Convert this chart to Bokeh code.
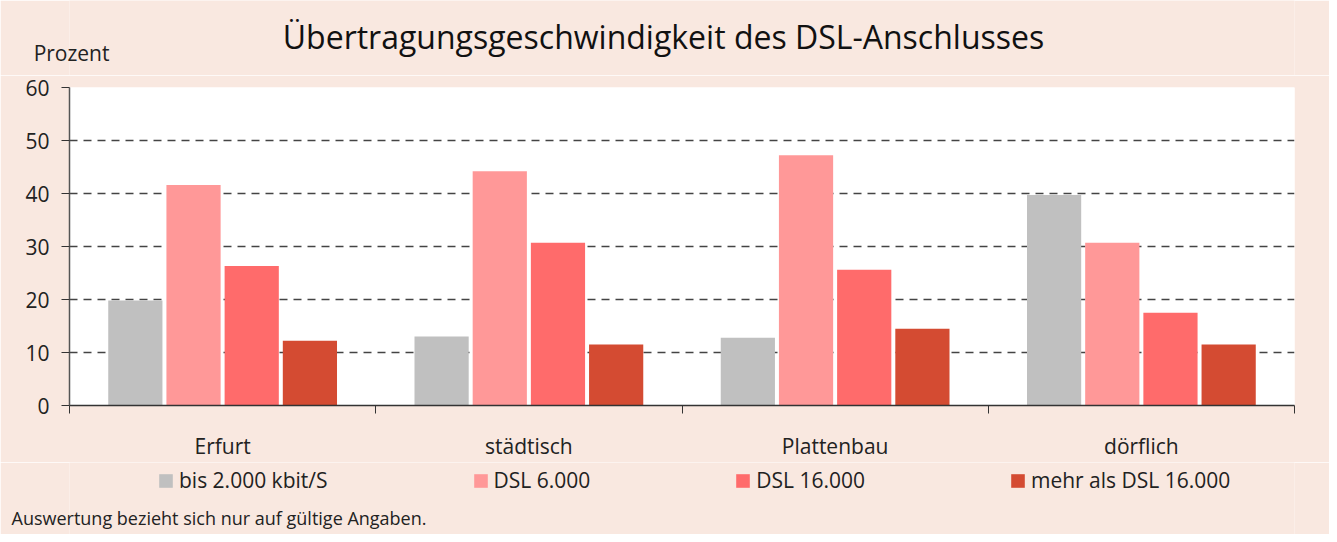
from bokeh.plotting import figure
from bokeh.layouts import column
from bokeh.models import (Range1d, LinearAxis, FixedTicker,
                          Legend, LegendItem, Label, ColumnDataSource)
from bokeh.transform import dodge
from bokeh.embed import file_html
from bokeh.resources import INLINE

categories = ["Erfurt", "städtisch", "Plattenbau", "dörflich"]
series_names = ["bis 2.000 kbit/S", "DSL 6.000", "DSL 16.000", "mehr als DSL 16.000"]
bis_2000 = [19.8, 13.0, 12.8, 39.7]
dsl_6000 = [41.6, 44.2, 47.2, 30.7]
dsl_16000 = [26.3, 30.7, 25.6, 17.5]
mehr_16000 = [12.2, 11.5, 14.5, 11.5]
y_ticks = [0, 10, 20, 30, 40, 50, 60]
title_text = "Übertragungsgeschwindigkeit des DSL-Anschlusses"
y_unit = "Prozent"
footnote = "Auswertung bezieht sich nur auf gültige Angaben."

colors = ["#C0C0C0", "#FF9898", "#FF6B6B", "#D44B32"]
BG = "#F9E8E0"
FONT = "Open Sans"
W = 1329
LEFT, RIGHT = 69, 35
H_TOP, H_MAIN, H_BOT = 75, 387, 72


def blank_fig(h):
    f = figure(width=W, height=h, x_range=Range1d(LEFT, W - RIGHT), y_range=Range1d(0, h),
               output_backend="svg", toolbar_location=None, title=None,
               x_axis_location=None, y_axis_location="left",
               min_border_left=LEFT, min_border_right=RIGHT,
               min_border_top=0, min_border_bottom=0)
    f.background_fill_color = BG
    f.border_fill_color = BG
    f.outline_line_color = None
    f.xgrid.visible = False
    f.ygrid.visible = False
    ax = f.yaxis[0]
    ax.axis_line_color = None
    ax.major_tick_line_color = None
    ax.minor_tick_line_color = None
    ax.major_tick_out = 0
    ax.major_tick_in = 0
    ax.minor_tick_out = 0
    ax.major_label_text_font = FONT
    ax.major_label_text_color = "#222222"
    return f


# ---- top: title and unit ----
top = blank_fig(H_TOP)
top.add_layout(Label(x=663, y=39, text=title_text, text_font=FONT, text_font_size="32px",
                     text_color="#111111", text_align="center", text_baseline="middle"))
tax = top.yaxis[0]
tax.ticker = FixedTicker(ticks=[23])
tax.major_label_overrides = {23: y_unit}
tax.major_label_text_font_size = "21px"
tax.major_label_standoff = -40

# ---- main chart ----
n = len(categories)
centers = [i + 0.5 for i in range(n)]
source = ColumnDataSource(data=dict(x=centers, cat=categories, s0=bis_2000, s1=dsl_6000,
                                    s2=dsl_16000, s3=mehr_16000))

p = figure(x_range=Range1d(0, n), y_range=Range1d(0, 60), title=None,
           width=W, height=H_MAIN, output_backend="svg", toolbar_location=None,
           min_border_left=LEFT, min_border_right=RIGHT,
           min_border_top=12, min_border_bottom=56)
p.background_fill_color = "white"
p.border_fill_color = BG
p.outline_line_color = None

xax = p.xaxis[0]
xax.ticker = FixedTicker(ticks=list(range(n + 1)))
xax.major_label_overrides = {i: "" for i in range(n + 1)}
xax.major_label_text_font_size = "1px"
xax.major_tick_out = 8
xax.major_tick_in = 0
xax.minor_tick_line_color = None
xax.axis_line_color = "#333333"
xax.major_tick_line_color = "#333333"
xax.axis_line_width = 1.5
xax.major_label_standoff = 0

cat_axis = LinearAxis(ticker=FixedTicker(ticks=centers),
                      major_label_overrides={c: name for c, name in zip(centers, categories)},
                      axis_line_color=None, major_tick_line_color=None, minor_tick_line_color=None,
                      major_label_text_font=FONT, major_label_text_font_size="21px",
                      major_label_text_color="#222222", major_label_standoff=12)
p.add_layout(cat_axis, "below")

yax = p.yaxis[0]
yax.ticker = FixedTicker(ticks=y_ticks)
yax.major_label_text_font = FONT
yax.major_label_text_font_size = "21px"
yax.major_label_text_color = "#222222"
yax.axis_line_color = "#555555"
yax.axis_line_width = 1.5
yax.major_tick_line_color = "#333333"
yax.major_tick_out = 8
yax.major_tick_in = 0
yax.minor_tick_line_color = None
yax.major_label_standoff = 12

p.xgrid.visible = False
p.ygrid.grid_line_color = "#444444"
p.ygrid.grid_line_dash = "8 6"
p.ygrid.grid_line_width = 1.3

offsets = [-0.285, -0.095, 0.095, 0.285]
for i, col in enumerate(colors):
    p.vbar(x=dodge("x", offsets[i]), top="s%d" % i, width=0.177,
           source=source, fill_color=col, line_color=None)

# ---- bottom: legend and footnote ----
bot = blank_fig(H_BOT)
items = []
for name, col in zip(series_names, colors):
    r = bot.vbar(x=[0], top=[0], width=0, fill_color=col, line_color=None)
    items.append(LegendItem(label=name, renderers=[r]))
legend = Legend(items=items, orientation="horizontal", location=(88, 40),
                glyph_width=17, glyph_height=17, label_standoff=5, spacing=144,
                label_text_font=FONT, label_text_font_size="21px", label_text_color="#222222",
                border_line_color=None, background_fill_alpha=0, padding=0, margin=0)
bot.add_layout(legend)
bax = bot.yaxis[0]
bax.ticker = FixedTicker(ticks=[17])
bax.major_label_overrides = {17: footnote}
bax.major_label_text_font_size = "18px"
bax.major_label_standoff = -357

layout = column(top, p, bot, spacing=0)
open("out.html", "w").write(file_html(layout, INLINE))
